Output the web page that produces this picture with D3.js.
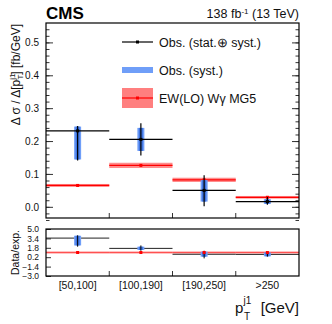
<!DOCTYPE html>
<html>
<head>
<meta charset="utf-8">
<script src="https://cdn.jsdelivr.net/npm/d3@7.9.0/dist/d3.min.js"></script>
<style>
  body { margin: 0; background: #fff; }
  svg { display: block; font-family: "Liberation Sans", Arial, Helvetica, sans-serif; }
</style>
</head>
<body>
<div id="chart"></div>
<script>
// bins of leading jet pT
const bins = ['[50,100]', '[100,190]', '[190,250]', '>250'];

// observed cross section [fb/GeV]
const obs = [0.231, 0.205, 0.050, 0.016];
const obsTotLo = [0.141, 0.156, 0.002, 0.006];
const obsTotHi = [0.246, 0.254, 0.096, 0.030];
const obsSystLo = [0.144, 0.170, 0.016, 0.009];
const obsSystHi = [0.244, 0.240, 0.081, 0.023];

// EW(LO) W gamma MG5 prediction
const pred = [0.065, 0.126, 0.082, 0.029];
const predUnc = [0.0045, 0.008, 0.0065, 0.004];

// data / expectation
const ratio = [3.45, 1.70, 0.70, 0.68];
const ratioTotLo = [1.99, 1.30, 0.00, 0.30];
const ratioTotHi = [3.93, 2.20, 1.30, 1.20];
const ratioSystLo = [2.20, 1.43, 0.29, 0.35];
const ratioSystHi = [3.85, 1.99, 1.14, 1.00];
const predRatio = [1, 1, 1, 1];
const predRatioUnc = [0.2, 0.2, 0.2, 0.2];

const yTicks = [0, 0.1, 0.2, 0.3, 0.4, 0.5];
const yMinorTicks = d3.range(-2, 28).map(i => i * 0.02);
const rTicks = [-3, -1.4, 0.2, 1.8, 3.4, 5];

const width = 332, height = 324;
const left = 46, right = 299;
const main = { top: 23, bottom: 218 };
const rp = { top: 229, bottom: 276 };

const blue = '#6f9ef8', blueDark = '#3f74e0';
const redBand = 'rgba(255,0,0,0.45)';

const svg = d3.select('#chart').append('svg')
  .attr('width', width)
  .attr('height', height);

const x = d3.scaleBand().domain(bins).range([left, right]);
const y = d3.scaleLinear().domain([-0.034, 0.559]).range([main.bottom, main.top]);
const yr = d3.scaleLinear().domain([-3, 5]).range([rp.bottom, rp.top]);
const cx = b => x(b) + x.bandwidth() / 2;

const rows = bins.map((b, i) => ({
  bin: b,
  obs: obs[i], totLo: obsTotLo[i], totHi: obsTotHi[i],
  systLo: obsSystLo[i], systHi: obsSystHi[i],
  pred: pred[i], predUnc: predUnc[i],
  ratio: ratio[i], rTotLo: ratioTotLo[i], rTotHi: ratioTotHi[i],
  rSystLo: ratioSystLo[i], rSystHi: ratioSystHi[i],
  pr: predRatio[i], prUnc: predRatioUnc[i],
}));

function stripDomain(g) {
  g.select('.domain').remove();
  g.selectAll('.tick line').attr('stroke', '#333');
}

// ---------- main panel axes ----------
svg.append('g')
  .attr('transform', `translate(${left},0)`)
  .call(d3.axisLeft(y).tickValues(yMinorTicks).tickSize(-3.5).tickFormat(''))
  .call(stripDomain);
svg.append('g')
  .attr('transform', `translate(${left},0)`)
  .call(d3.axisLeft(y).tickValues(yTicks).tickSize(-7).tickPadding(7).tickFormat(d3.format('.1f')))
  .call(stripDomain)
  .call(g => g.selectAll('text').attr('font-size', 10).attr('fill', '#111').attr('font-family', null));
svg.append('g')
  .attr('transform', `translate(${right},0)`)
  .call(d3.axisRight(y).tickValues(yMinorTicks).tickSize(-3.5).tickFormat(''))
  .call(stripDomain);
svg.append('g')
  .attr('transform', `translate(${right},0)`)
  .call(d3.axisRight(y).tickValues(yTicks).tickSize(-7).tickFormat(''))
  .call(stripDomain);

// bin boundary ticks
const edges = bins.slice(1).map(b => x(b));
[main.bottom, rp.bottom].forEach(yb => {
  svg.append('g').selectAll('line')
    .data(edges)
    .join('line')
    .attr('x1', d => d).attr('x2', d => d)
    .attr('y1', yb).attr('y2', yb - 5)
    .attr('stroke', '#333');
});

// ---------- main panel data ----------
const gm = svg.append('g');

gm.selectAll('rect.pband')
  .data(rows)
  .join('rect')
  .attr('class', 'pband')
  .attr('x', d => x(d.bin))
  .attr('width', x.bandwidth())
  .attr('y', d => y(d.pred + d.predUnc))
  .attr('height', d => y(d.pred - d.predUnc) - y(d.pred + d.predUnc))
  .attr('fill', redBand);

gm.selectAll('line.pline')
  .data(rows)
  .join('line')
  .attr('class', 'pline')
  .attr('x1', d => x(d.bin)).attr('x2', d => x(d.bin) + x.bandwidth())
  .attr('y1', d => y(d.pred)).attr('y2', d => y(d.pred))
  .attr('stroke', 'red').attr('stroke-width', 1.3);

gm.selectAll('rect.pmark')
  .data(rows)
  .join('rect')
  .attr('class', 'pmark')
  .attr('x', d => cx(d.bin) - 1.5).attr('y', d => y(d.pred) - 1.5)
  .attr('width', 3).attr('height', 3)
  .attr('fill', 'red');

gm.selectAll('rect.syst')
  .data(rows)
  .join('rect')
  .attr('class', 'syst')
  .attr('x', d => cx(d.bin) - 3.5)
  .attr('width', 7)
  .attr('y', d => y(d.systHi))
  .attr('height', d => y(d.systLo) - y(d.systHi))
  .attr('fill', blue);

gm.selectAll('rect.systc')
  .data(rows)
  .join('rect')
  .attr('class', 'systc')
  .attr('x', d => cx(d.bin) - 2)
  .attr('width', 4)
  .attr('y', d => y(d.systHi))
  .attr('height', d => y(d.systLo) - y(d.systHi))
  .attr('fill', blueDark);

gm.selectAll('line.err')
  .data(rows)
  .join('line')
  .attr('class', 'err')
  .attr('x1', d => cx(d.bin)).attr('x2', d => cx(d.bin))
  .attr('y1', d => y(d.totHi)).attr('y2', d => y(d.totLo))
  .attr('stroke', '#000').attr('stroke-width', 1.2);

gm.selectAll('line.obs')
  .data(rows)
  .join('line')
  .attr('class', 'obs')
  .attr('x1', d => x(d.bin)).attr('x2', d => x(d.bin) + x.bandwidth())
  .attr('y1', d => y(d.obs)).attr('y2', d => y(d.obs))
  .attr('stroke', '#000').attr('stroke-width', 1.2);

gm.selectAll('rect.omark')
  .data(rows)
  .join('rect')
  .attr('class', 'omark')
  .attr('x', d => cx(d.bin) - 1.5).attr('y', d => y(d.obs) - 1.5)
  .attr('width', 3).attr('height', 3)
  .attr('fill', '#000');

// ---------- ratio panel ----------
svg.append('g')
  .attr('transform', `translate(${left},0)`)
  .call(d3.axisLeft(yr).tickValues(rTicks).tickSize(-5).tickPadding(7).tickFormat(d3.format('.1f')))
  .call(stripDomain)
  .call(g => g.selectAll('text').attr('font-size', 8.5).attr('fill', '#111').attr('font-family', null));

const gr = svg.append('g');

gr.selectAll('rect.pband')
  .data(rows)
  .join('rect')
  .attr('class', 'pband')
  .attr('x', d => x(d.bin))
  .attr('width', x.bandwidth())
  .attr('y', d => yr(d.pr + d.prUnc))
  .attr('height', d => yr(d.pr - d.prUnc) - yr(d.pr + d.prUnc))
  .attr('fill', 'rgba(255,0,0,0.35)');

gr.selectAll('line.pline')
  .data(rows)
  .join('line')
  .attr('class', 'pline')
  .attr('x1', d => x(d.bin)).attr('x2', d => x(d.bin) + x.bandwidth())
  .attr('y1', d => yr(d.pr)).attr('y2', d => yr(d.pr))
  .attr('stroke', 'rgba(255,60,60,0.8)').attr('stroke-width', 1);

gr.selectAll('line.obs')
  .data(rows)
  .join('line')
  .attr('class', 'obs')
  .attr('x1', d => x(d.bin)).attr('x2', d => x(d.bin) + x.bandwidth())
  .attr('y1', d => yr(d.ratio)).attr('y2', d => yr(d.ratio))
  .attr('stroke', '#222').attr('stroke-width', 1);

gr.selectAll('rect.syst')
  .data(rows)
  .join('rect')
  .attr('class', 'syst')
  .attr('x', d => cx(d.bin) - 3.5)
  .attr('width', 7)
  .attr('y', d => yr(d.rSystHi))
  .attr('height', d => yr(d.rSystLo) - yr(d.rSystHi))
  .attr('fill', blue);

gr.selectAll('rect.systc')
  .data(rows)
  .join('rect')
  .attr('class', 'systc')
  .attr('x', d => cx(d.bin) - 2)
  .attr('width', 4)
  .attr('y', d => yr(d.rSystHi))
  .attr('height', d => yr(d.rSystLo) - yr(d.rSystHi))
  .attr('fill', blueDark);

gr.selectAll('line.err')
  .data(rows)
  .join('line')
  .attr('class', 'err')
  .attr('x1', d => cx(d.bin)).attr('x2', d => cx(d.bin))
  .attr('y1', d => yr(d.rTotHi)).attr('y2', d => yr(d.rTotLo))
  .attr('stroke', '#000').attr('stroke-width', 1);

gr.selectAll('rect.pmark')
  .data(rows)
  .join('rect')
  .attr('class', 'pmark')
  .attr('x', d => cx(d.bin) - 1.5).attr('y', d => yr(d.pr) - 1.5)
  .attr('width', 3).attr('height', 3)
  .attr('fill', 'red');

// x labels
svg.append('g')
  .attr('transform', `translate(0,${rp.bottom})`)
  .call(d3.axisBottom(x).tickSize(0).tickPadding(6))
  .call(g => g.select('.domain').remove())
  .call(g => g.selectAll('text').attr('font-size', 10.5).attr('fill', '#111').attr('font-family', null));

// frames
svg.append('rect')
  .attr('x', left).attr('y', main.top)
  .attr('width', right - left).attr('height', main.bottom - main.top)
  .attr('fill', 'none').attr('stroke', '#000').attr('stroke-width', 1.2);
svg.append('rect')
  .attr('x', left).attr('y', rp.top)
  .attr('width', right - left).attr('height', rp.bottom - rp.top)
  .attr('fill', 'none').attr('stroke', '#000').attr('stroke-width', 1.2);

// ---------- legend ----------
const lg = svg.append('g');
const lx0 = 122, lx1 = 153, tx = 159;
lg.append('line').attr('x1', lx0).attr('x2', lx1).attr('y1', 42).attr('y2', 42)
  .attr('stroke', '#000').attr('stroke-width', 1.2);
lg.append('rect').attr('x', (lx0 + lx1) / 2 - 1.5).attr('y', 40.5).attr('width', 3).attr('height', 3).attr('fill', '#000');
lg.append('rect').attr('x', lx0).attr('y', 67).attr('width', lx1 - lx0).attr('height', 6).attr('fill', blue);
lg.append('rect').attr('x', lx0).attr('y', 88).attr('width', lx1 - lx0).attr('height', 20).attr('fill', 'rgba(255,0,0,0.5)');
lg.append('line').attr('x1', lx0).attr('x2', lx1).attr('y1', 98).attr('y2', 98)
  .attr('stroke', 'red').attr('stroke-width', 1.2);
lg.append('rect').attr('x', (lx0 + lx1) / 2 - 1.5).attr('y', 96.5).attr('width', 3).attr('height', 3).attr('fill', 'red');

const legendLabels = ['Obs. (stat.\u2295 syst.)', 'Obs. (syst.)', 'EW(LO) W\u03b3 MG5'];
lg.selectAll('text')
  .data(legendLabels)
  .join('text')
  .attr('x', tx)
  .attr('y', (d, i) => 42 + i * 28 + 4.7)
  .attr('font-size', 12.5)
  .attr('fill', '#111')
  .text(d => d);

// ---------- titles ----------
svg.append('text')
  .attr('x', left).attr('y', 19)
  .attr('font-size', 17).attr('font-weight', 'bold')
  .text('CMS');

const lumi = svg.append('text')
  .attr('x', right).attr('y', 18.3)
  .attr('text-anchor', 'end')
  .attr('font-size', 12.5)
  .attr('fill', '#111');
lumi.append('tspan').text('138 fb');
lumi.append('tspan').attr('font-size', 8).attr('dy', -4.5).text('-1');
lumi.append('tspan').attr('dy', 4.5).text(' (13 TeV)');

// y title main
const yt = svg.append('g')
  .attr('transform', 'translate(19.5,24) rotate(-90)')
  .append('text')
  .attr('text-anchor', 'end')
  .attr('font-size', 12)
  .attr('fill', '#111');
yt.append('tspan').text('\u0394 \u03c3 / \u0394[p');
yt.append('tspan').attr('font-size', 8).attr('dy', -5).text('j1');
yt.append('tspan').attr('font-size', 8).attr('dx', -6).attr('dy', 8).text('T');
yt.append('tspan').attr('dy', -3).text('] [fb/GeV]');

// y title ratio
svg.append('text')
  .attr('transform', `translate(18.5,${(rp.top + rp.bottom) / 2}) rotate(-90)`)
  .attr('text-anchor', 'middle')
  .attr('font-size', 10.5)
  .attr('fill', '#111')
  .text('Data/exp.');

// x title: p_T^{j1} [GeV]
const xtitle = svg.append('g').attr('fill', '#111');
xtitle.append('text').attr('x', 235).attr('y', 313).attr('font-size', 15).text('p');
xtitle.append('text').attr('x', 243.5).attr('y', 304).attr('font-size', 10).text('j1');
xtitle.append('text').attr('x', 244).attr('y', 320).attr('font-size', 10).text('T');
xtitle.append('text').attr('x', right).attr('y', 313).attr('text-anchor', 'end')
  .attr('font-size', 15).text('[GeV]');
</script>
</body>
</html>
